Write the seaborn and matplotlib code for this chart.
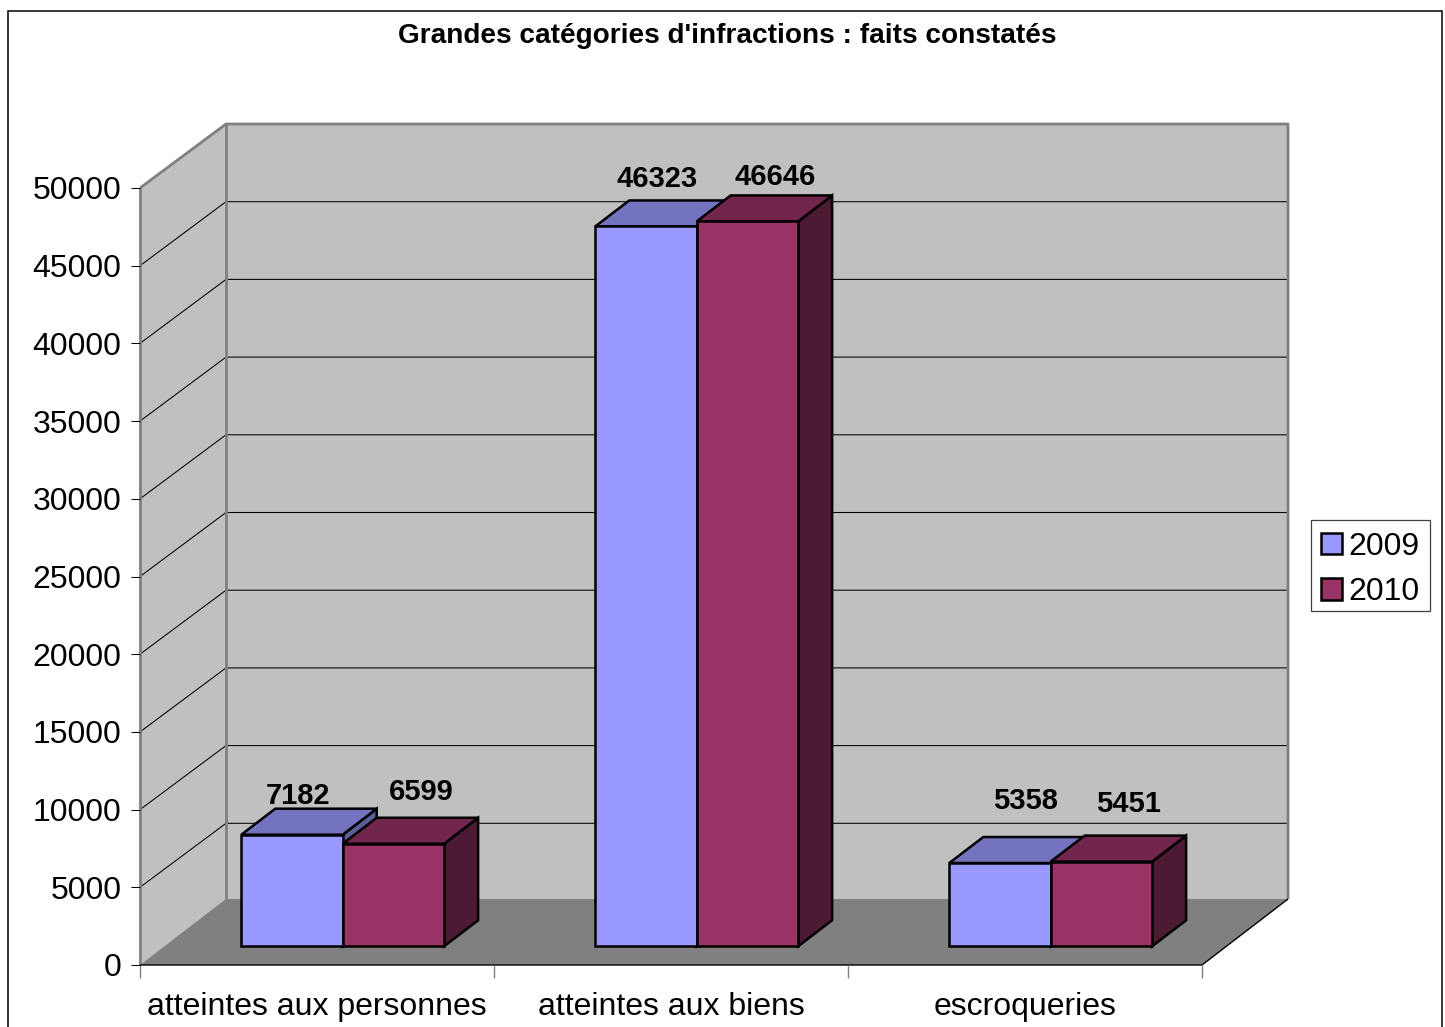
import pandas as pd
import seaborn as sns
import matplotlib.pyplot as plt
from matplotlib.patches import Polygon, Rectangle

# Data
categories = ['atteintes aux personnes', 'atteintes aux biens', 'escroqueries']
values_2009 = [7182, 46323, 5358]
values_2010 = [6599, 46646, 5451]
years = ['2009', '2010']
y_ticks = [0, 5000, 10000, 15000, 20000, 25000, 30000, 35000, 40000, 45000, 50000]

df = pd.DataFrame({'categorie': categories, '2009': values_2009, '2010': values_2010})
long_df = pd.melt(df, id_vars=['categorie'], value_vars=years, var_name='annee', value_name='faits')

W, H = 1445, 1027
AX_L, AX_R, AX_T, AX_B = 140, 1202, 188, 965
YMAX = 50000

sns.set_theme(style='white')
plt.rcParams['font.family'] = ['Liberation Sans', 'DejaVu Sans']

fig = plt.figure(figsize=(W / 100, H / 100), dpi=100)
ax = fig.add_axes([AX_L / W, 1 - AX_B / H, (AX_R - AX_L) / W, (AX_B - AX_T) / H])
ax.patch.set_alpha(0)

# Pixels to data units
ux = 3 / (AX_R - AX_L)
uy = YMAX / (AX_B - AX_T)
FX, FY = 86 * ux, 64 * uy      # depth of the walls
FLOOR_Y = 66 * uy              # floor reaches a little higher than the wall base
BX, BY = 25.7 * ux, 18.7 * uy  # where the bars stand on the floor
DX, DY = 34 * ux, 26 * uy      # depth of a bar

sns.barplot(data=long_df, x='categorie', y='faits', hue='annee', hue_order=years,
            palette=['#9999ff', '#993366'], saturation=1, width=0.573, gap=0,
            edgecolor='black', linewidth=1.8, ax=ax)
handles, labels = ax.get_legend_handles_labels()
ax.get_legend().remove()

x0, x1 = -0.5, 2.5
ax.set_xlim(x0, x1)
ax.set_ylim(0, YMAX)
for s in ax.spines.values():
    s.set_visible(False)


def poly(pts, fc, z, ec='none', lw=0):
    ax.add_patch(Polygon(pts, closed=True, facecolor=fc, edgecolor=ec, linewidth=lw,
                         zorder=z, clip_on=False, joinstyle='miter'))


def line(xs, ys, color, lw, z=0.4):
    ax.plot(xs, ys, color=color, lw=lw, zorder=z, clip_on=False, solid_capstyle='butt')


# Walls and floor
poly([(x0 + FX, FY), (x1 + FX, FY), (x1 + FX, YMAX + FY), (x0 + FX, YMAX + FY)], '#c0c0c0', 0.1)
poly([(x0, 0), (x0 + FX, FY), (x0 + FX, YMAX + FY), (x0, YMAX)], '#c0c0c0', 0.1)
poly([(x0, 0), (x1, 0), (x1 + FX, FLOOR_Y), (x0 + FX, FLOOR_Y)], '#808080', 0.2)

for t in y_ticks[1:-1]:
    line([x0, x0 + FX, x1 + FX], [t, t + FY, t + FY], 'black', 0.75)

gray = '#808080'
line([x0, x0], [0, YMAX], gray, 2, 0.5)
line([x0 + FX, x0 + FX], [FLOOR_Y, YMAX + FY], gray, 2, 0.5)
line([x0, x0 + FX, x1 + FX, x1 + FX], [YMAX, YMAX + FY, YMAX + FY, FLOOR_Y], gray, 2, 0.5)
line([x0, x1, x1 + FX], [0, 0, FLOOR_Y], 'black', 1.0, 0.5)

# Bars with their top and side faces, left to right
top_colors = ['#7373bf', '#73264d']
side_colors = ['#5c5c99', '#4d1a33']
bars = []
for k, cont in enumerate(ax.containers):
    for p in cont.patches:
        bars.append((p.get_x(), k, p))
bars.sort(key=lambda b: b[0])

z = 1.0
for _, k, p in bars:
    p.set_x(p.get_x() + BX)
    p.set_y(BY)
    p.set_clip_on(False)
    l, r = p.get_x(), p.get_x() + p.get_width()
    b, t = BY, BY + p.get_height()
    poly([(r, b), (r + DX, b + DY), (r + DX, t + DY), (r, t)], side_colors[k], z, 'black', 1.8)
    poly([(l, t), (r, t), (r + DX, t + DY), (l + DX, t + DY)], top_colors[k], z + 0.01, 'black', 1.8)
    p.set_zorder(z + 0.02)
    z += 0.1

# Value labels, each one sits at its own offset in the original
label_offsets = {(0, 0): (6, 39), (1, 0): (11, 47), (2, 0): (25, 62),
                 (0, 1): (28, 52), (1, 1): (28, 44), (2, 1): (27, 58)}
for k, (vals, cont) in enumerate(zip([values_2009, values_2010], ax.containers)):
    for i, (v, p) in enumerate(zip(vals, sorted(cont.patches, key=lambda q: q.get_x()))):
        off = label_offsets[(i, k)]
        ax.annotate(str(v), xy=(p.get_x() + p.get_width() / 2, BY + v), xytext=off,
                    textcoords='offset pixels', ha='center', va='center',
                    fontsize=21, fontweight='bold', color='black', zorder=5,
                    annotation_clip=False)

# Axes
ax.set_xlabel('')
ax.set_ylabel('')
ax.set_yticks(y_ticks)
ax.set_xticks(range(len(categories)), categories)
ax.set_xticks([-0.5, 0.5, 1.5, 2.5], minor=True)
ax.tick_params(axis='y', left=True, length=6.5, width=0.75, color='black', pad=7,
               labelsize=23, labelcolor='black')
ax.tick_params(axis='x', which='major', bottom=False, length=0, pad=19.5,
               labelsize=23, labelcolor='black')
ax.tick_params(axis='x', which='minor', bottom=True, length=9, width=1.0, color=gray)

# Legend box is drawn apart, its padding differs in x and y
fig.add_artist(Rectangle((1311 / W, 1 - 611 / H), 119 / W, 91 / H, transform=fig.transFigure,
                         facecolor='white', edgecolor='#404040', linewidth=0.9))
fig.legend(handles, labels, loc='center', bbox_to_anchor=(1370.5 / W, 1 - 569.5 / H),
           fontsize=23, labelcolor='black', frameon=False,
           handlelength=0.65, handleheight=0.65, handletextpad=0.2,
           labelspacing=0.49, borderpad=0.2, borderaxespad=0)

fig.text(727 / W, 1 - 36 / H, "Grandes catégories d'infractions : faits constatés",
         ha='center', va='center', fontsize=20.2, fontweight='bold', color='black')

# Outer frame runs past the bottom of the picture
fig.add_artist(Rectangle((7.5 / W, -0.02), (1442 - 7.5) / W, 1.02 - 10.5 / H,
                         transform=fig.transFigure, fill=False, edgecolor='black', linewidth=1.1))

fig.savefig('out.png', dpi=100)
